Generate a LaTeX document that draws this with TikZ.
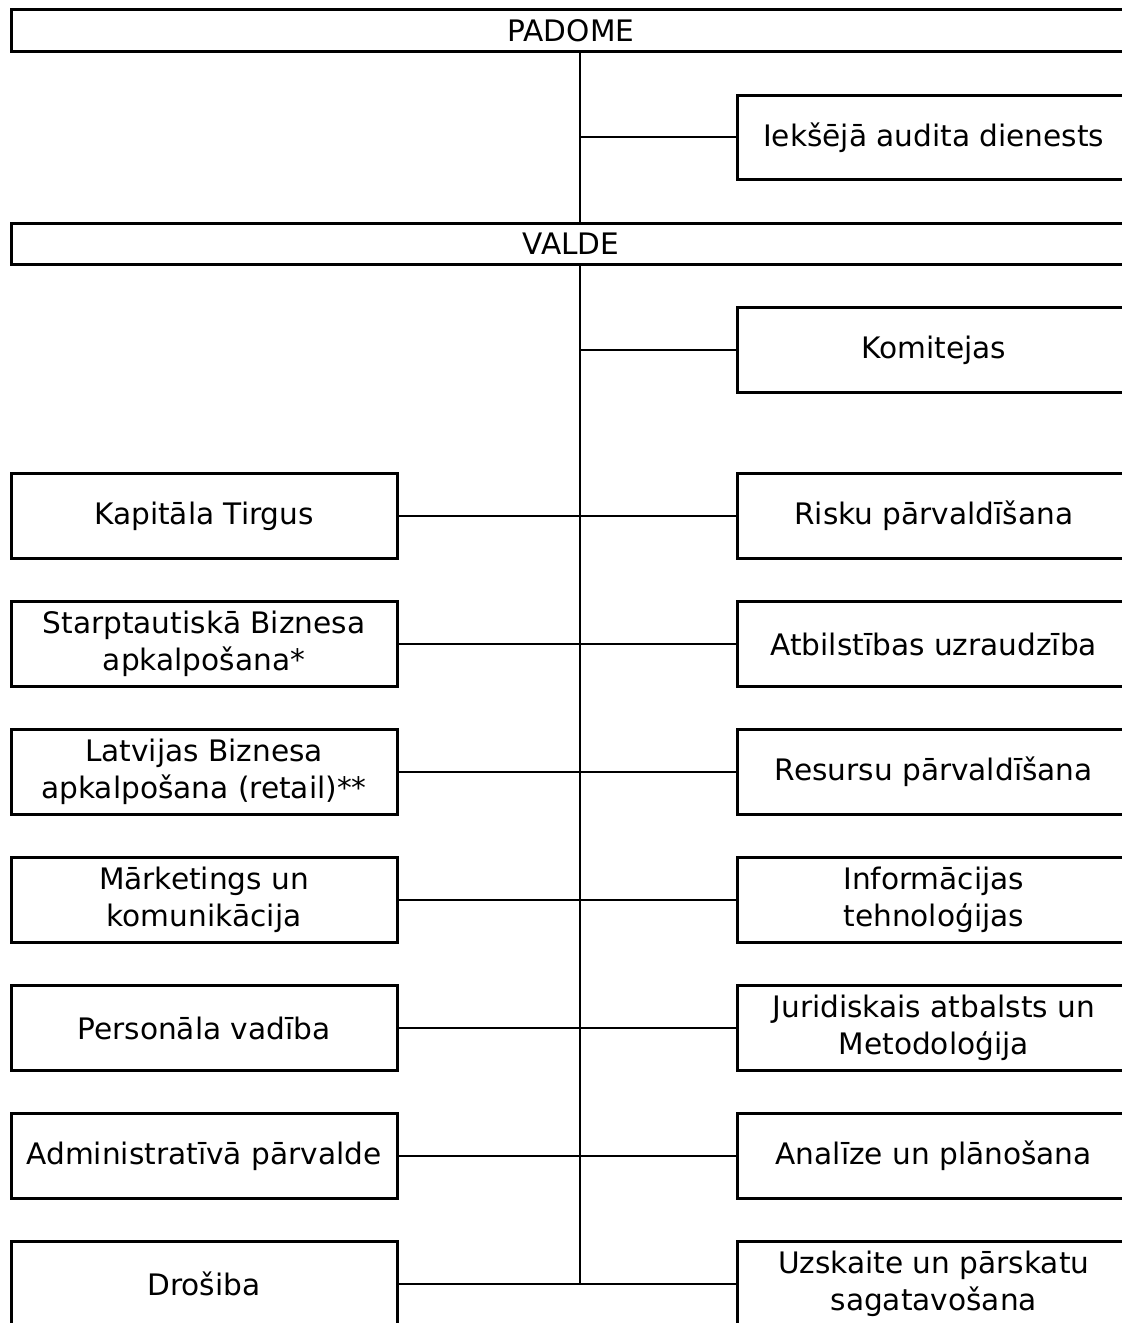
\documentclass[tikz,border=0pt]{standalone}
\usepackage{fontspec}
\setmainfont{DejaVu Sans}
\begin{document}
\begin{tikzpicture}[x=1pt,y=-1pt,
  box/.style={draw,line width=3pt,inner sep=0pt,align=center,font=\fontsize{29.6}{37}\selectfont},
  wide/.style={box,minimum width=1119pt,minimum height=41.5pt},
  lbox/.style={box,minimum width=386pt,minimum height=85pt},
  rbox/.style={box,minimum width=392.5pt,minimum height=85pt},
  conn/.style={line width=2pt}]
\useasboundingbox (0,0) rectangle (1122,1323);
\clip (0,0) rectangle (1122,1323);
\fill[white] (0,0) rectangle (1122,1323);
\coordinate (tx) at (580,0);
\node[wide] (padome) at (571,30.25) {PADOME};
\node[wide] (valde) at (571,243.75) {VALDE};
\node[rbox,minimum height=83.5pt] (iek) at (933.75,137.25) {Iekšējā audita dienests};
\node[rbox] (kom) at (933.75,350) {Komitejas};
\node[lbox] (l1) at (204,516) {Kapitāla Tirgus};
\node[rbox] (r1) at (933.75,516) {Risku pārvaldīšana};
\node[lbox] (l2) at (204,644) {Starptautiskā Biznesa\\apkalpošana*};
\node[rbox] (r2) at (933.75,644) {Atbilstības uzraudzība};
\node[lbox] (l3) at (204,772) {Latvijas Biznesa\\apkalpošana (retail)**};
\node[rbox] (r3) at (933.75,772) {Resursu pārvaldīšana};
\node[lbox] (l4) at (204,900) {Mārketings un\\komunikācija};
\node[rbox] (r4) at (933.75,900) {Informācijas\\tehnoloģijas};
\node[lbox] (l5) at (204,1028) {Personāla vadība};
\node[rbox] (r5) at (933.75,1028) {Juridiskais atbalsts un\\Metodoloģija};
\node[lbox] (l6) at (204,1156) {Administratīvā pārvalde};
\node[rbox] (r6) at (933.75,1156) {Analīze un plānošana};
\node[lbox] (l7) at (204,1284) {Drošiba};
\node[rbox] (r7) at (933.75,1284) {Uzskaite un pārskatu\\sagatavošana};
\draw[conn] (padome.south -| tx) -- (valde.north -| tx);
\draw[conn] (tx |- iek.west) -- (iek.west);
\draw[conn] (valde.south -| tx) -- (tx |- l7.east);
\draw[conn] (tx |- kom.west) -- (kom.west);
\foreach \i in {1,...,7} {\draw[conn] (l\i.east) -- (r\i.west);}
\end{tikzpicture}
\end{document}
